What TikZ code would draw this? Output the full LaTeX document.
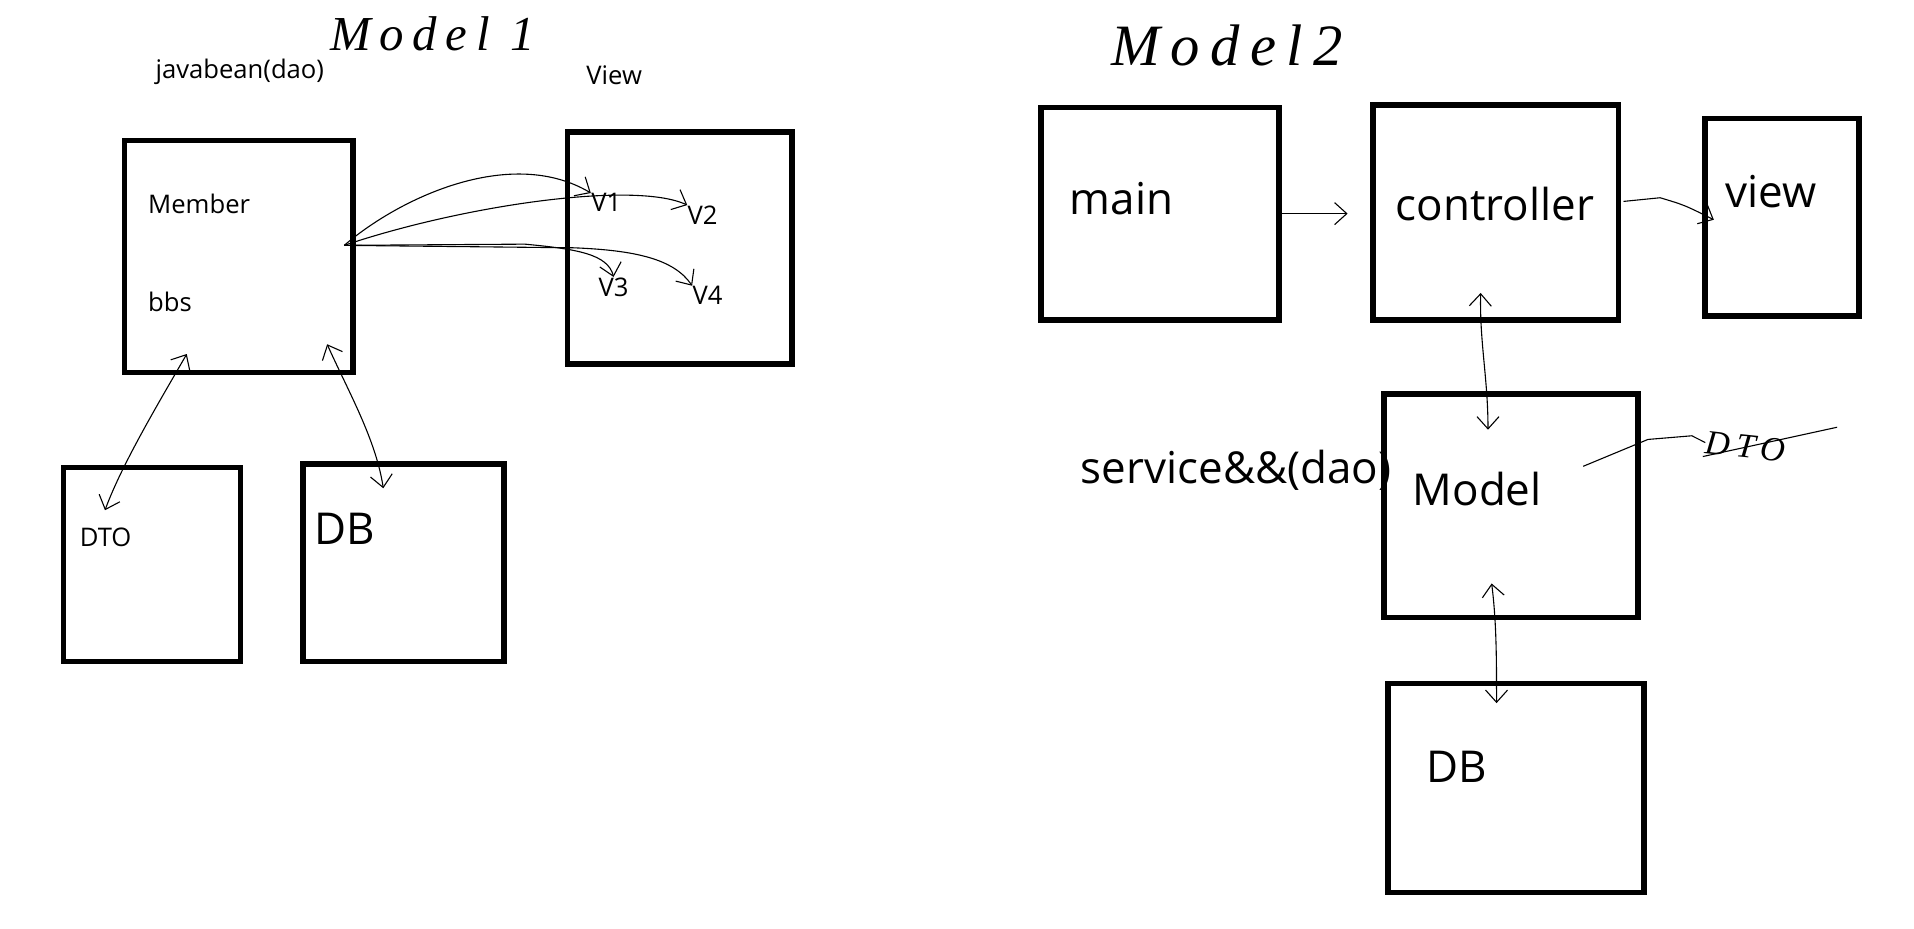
\documentclass[tikz,border=0pt]{standalone}
\usepackage{fontspec}
\setmainfont{Open Sans}
\newfontfamily\handfont[LetterSpace=18]{Liberation Serif}
\usetikzlibrary{arrows.meta}
\begin{document}
\begin{tikzpicture}[x=0.5pt,y=-0.5pt,
  bx/.style n args={2}{draw, line width=2.3pt, minimum width=#1*0.5pt, minimum height=#2*0.5pt, inner sep=0pt},
  sm/.style={anchor=west, inner sep=0pt, font=\fontsize{10.5pt}{12pt}\selectfont},
  lg/.style={anchor=west, inner sep=0pt, font=\fontsize{18pt}{21pt}\selectfont},
  ttl/.style={anchor=west, inner sep=0pt, font=\handfont\itshape\fontsize{20pt}{22pt}\selectfont},
  conn/.style={line width=0.45pt, -{Straight Barb[length=5pt,width=9pt]}},
  conn2/.style={line width=0.45pt, {Straight Barb[length=5pt,width=9pt]}-{Straight Barb[length=5pt,width=9pt]}}
]
\useasboundingbox (0,0) rectangle (1568,761);
% titles
\node[ttl] (t1) at (270,28) {Model 1};
\node[ttl, font=\handfont\itshape\fontsize{24pt}{26pt}\selectfont] (t2) at (910,37) {Model2};
% Model 1
\node[bx={187}{190}] (member) at (195.5,210) {};
\node[bx={184}{190}] (view1) at (557,203) {};
\node[bx={145}{159}] (dto) at (124.5,462.5) {};
\node[bx={165}{162}] (db1) at (330.5,461) {};
\node[sm] (jb) at (127,59) {javabean(dao)};
\node[sm] (viewlbl) at (480,62) {View};
\node[sm] (mem) at (121,167) {Member};
\node[sm] (bbs) at (121,247) {bbs};
\node[sm] (v1) at (484,166) {V1};
\node[sm] (v2) at (563,176) {V2};
\node[sm] (v3) at (490,235) {V3};
\node[sm] (v4) at (567,242) {V4};
\node[sm] (dtolbl) at (65,440) {DTO};
\node[lg] (db1lbl) at (257,433) {DB};
\coordinate (o) at (282,201);
\draw[conn] (o) .. controls (330,160) and (420,120) .. (v1.north west);
\draw[conn] (o) .. controls (380,168) and (520,148) .. (v2.north west);
\draw[conn] (o) -- (430,200) .. controls (472,204) and (498,208) .. (v3.north);
\draw[conn] (o) -- (470,203) .. controls (520,205) and (552,212) .. (v4.north west);
\coordinate (a1) at (153,290);
\coordinate (a2) at (86,418);
\draw[conn2] (a1) .. controls (130,330) and (100,380) .. (a2);
\coordinate (b1) at (268,282);
\coordinate (b2) at (314,400);
\draw[conn2] (b1) .. controls (285,320) and (308,360) .. (b2);
% Model 2
\node[bx={195}{174}] (main) at (950.5,175) {};
\node[bx={201}{176}] (ctrl) at (1225.5,174) {};
\node[bx={126}{162}] (view2) at (1460,178) {};
\node[bx={208}{183}] (model) at (1238,414.5) {};
\node[bx={210}{171}] (db2) at (1242,645.5) {};
\node[lg] (mainlbl) at (876,163) {main};
\node[lg] (ctrllbl) at (1143,167) {controller};
\node[lg] (viewlbl2) at (1413,157) {view};
\node[lg] (modellbl) at (1157,401) {Model};
\node[lg] (svc) at (885,385) {service\&\&(dao)};
\node[lg] (db2lbl) at (1168,628) {DB};
\coordinate (c1) at (1104,175);
\draw[conn] (main.east |- c1) -- (c1);
\coordinate (c2) at (1404,180);
\draw[conn] (1330,165) -- (1360,162) .. controls (1380,168) .. (c2);
\coordinate (d1) at (1213,240);
\coordinate (d2) at (1219,352);
\draw[conn2] (d1) .. controls (1212,280) and (1219,310) .. (d2);
\coordinate (e1) at (1222,478);
\coordinate (e2) at (1226,576);
\draw[conn2] (e1) .. controls (1226,510) and (1226,540) .. (e2);
% DTO annotation
\coordinate (f1) at (1297,382);
\node[inner sep=0pt, rotate=-6, font=\handfont\itshape\fontsize{14pt}{15pt}\selectfont] (dto2) at (1430,366) {DTO};
\draw[line width=0.45pt] (f1) -- (1350,360) -- (1386,357) -- (dto2.west);
\draw[line width=0.45pt] (1395,374) -- (1505,350);
\end{tikzpicture}
\end{document}
